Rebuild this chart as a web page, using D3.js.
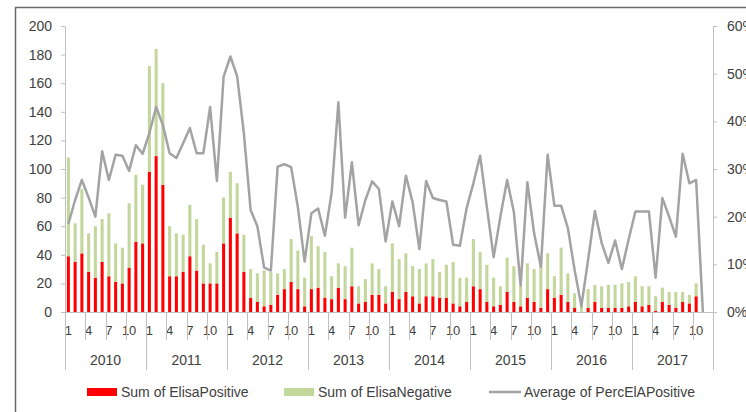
<!DOCTYPE html>
<html>
<head>
<meta charset="utf-8">
<script src="https://cdn.jsdelivr.net/npm/d3@7"></script>
<style>
  html, body { margin: 0; padding: 0; background: #fff; }
  svg { display: block; font-family: "Liberation Sans", Arial, sans-serif; }
</style>
</head>
<body>
<svg id="chart" width="746" height="412"></svg>
<script>
// Monthly ELISA test counts and average percent positive, 2010–2017
const years = ["2010", "2011", "2012", "2013", "2014", "2015", "2016", "2017"];
const monthNumbers = [1, 2, 3, 4, 5, 6, 7, 8, 9, 10, 11, 12];
const labelledMonths = [1, 4, 7, 10];
const countTicks = [0, 20, 40, 60, 80, 100, 120, 140, 160, 180, 200];
const percentTicks = [0, 0.1, 0.2, 0.3, 0.4, 0.5, 0.6];

const elisaPositive = [
  39, 35, 41, 28, 24, 35, 25, 21, 20, 31, 49, 48,
  98, 109, 89, 25, 25, 28, 39, 29, 20, 20, 20, 48,
  66, 55, 28, 10, 7, 4, 5, 12, 16, 21, 16, 4,
  16, 17, 10, 9, 17, 9, 18, 6, 7, 12, 12, 6,
  14, 9, 14, 11, 6, 11, 11, 10, 10, 6, 4, 7,
  18, 16, 7, 4, 5, 14, 7, 4, 10, 7, 3, 16,
  10, 12, 7, 3, 0, 3, 7, 3, 3, 3, 3, 4,
  7, 4, 5, 1, 7, 5, 3, 7, 6, 11, 0, null
];

const elisaNegative = [
  69, 27, 45, 27, 36, 30, 44, 27, 25, 45, 47, 41,
  74, 75, 71, 35, 30, 26, 36, 36, 27, 14, 22, 32,
  32, 35, 26, 20, 20, 25, 23, 15, 14, 30, 27, 20,
  37, 29, 32, 16, 17, 23, 27, 12, 16, 22, 18, 12,
  34, 28, 27, 21, 24, 23, 26, 18, 23, 29, 20, 17,
  33, 26, 26, 20, 13, 24, 25, 14, 24, 23, 34, 25,
  15, 33, 20, 10, 5, 13, 12, 15, 16, 16, 17, 17,
  18, 14, 13, 10, 10, 9, 11, 7, 6, 9, 0, null
];

const percElAPositive = [
  0.185, 0.235, 0.277, 0.240, 0.200, 0.337, 0.277, 0.330, 0.328, 0.296, 0.350, 0.332,
  0.375, 0.430, 0.392, 0.333, 0.323, 0.354, 0.386, 0.333, 0.333, 0.430, 0.275, 0.494,
  0.536, 0.495, 0.375, 0.214, 0.180, 0.093, 0.087, 0.305, 0.310, 0.304, 0.220, 0.106,
  0.207, 0.217, 0.160, 0.250, 0.440, 0.198, 0.314, 0.182, 0.235, 0.274, 0.258, 0.148,
  0.232, 0.180, 0.286, 0.230, 0.132, 0.275, 0.239, 0.235, 0.232, 0.141, 0.139, 0.218,
  0.270, 0.328, 0.220, 0.115, 0.200, 0.277, 0.210, 0.055, 0.272, 0.165, 0.095, 0.330,
  0.223, 0.223, 0.176, 0.088, 0.012, 0.110, 0.212, 0.145, 0.103, 0.150, 0.090, 0.152,
  0.211, 0.211, 0.211, 0.072, 0.239, 0.200, 0.158, 0.332, 0.270, 0.277, 0.000, null
];

// Category table: one row per month
const rows = years.flatMap((yr, yi) => monthNumbers.map((m, mi) => {
  const i = yi * monthNumbers.length + mi;
  return {
    i, year: yr, month: m,
    pos: elisaPositive[i] ?? 0,
    neg: elisaNegative[i] ?? 0,
    pct: percElAPositive[i]
  };
}));

const svg = d3.select("#chart");
const textColor = "#404040";
const axisColor = "#c0c0c0";

// Frame around the chart area
svg.append("path")
  .attr("d", "M15.5,420 V7.5 H760")
  .attr("fill", "none")
  .attr("stroke", "#6a6a6a")
  .attr("stroke-width", 1.5);

const plotLeft = 65, plotRight = 713, plotBottom = 312, plotTop = 26;

const x = d3.scaleBand()
  .domain(rows.map(d => d.i))
  .range([plotLeft, plotRight])
  .paddingInner(0.55)
  .paddingOuter(0.275);

const y = d3.scaleLinear().domain([0, 200]).range([plotBottom, plotTop]);
const yPct = d3.scaleLinear().domain([0, 0.6]).range([plotBottom, plotTop]);

// Stacked bars: positives at the bottom, negatives on top
const stack = d3.stack().keys(["pos", "neg"]);
const series = stack(rows);
const barColors = { pos: "#ff0000", neg: "#c3d69b" };

svg.append("g").selectAll("g")
  .data(series)
  .join("g")
  .attr("fill", s => barColors[s.key])
  .selectAll("rect")
  .data(s => s)
  .join("rect")
  .attr("x", d => x(d.data.i))
  .attr("width", x.bandwidth())
  .attr("y", d => y(d[1]))
  .attr("height", d => Math.max(0, y(d[0]) - y(d[1])));

// Left axis (counts)
const leftAxis = svg.append("g")
  .attr("transform", `translate(${plotLeft},0)`)
  .call(d3.axisLeft(y).tickValues(countTicks).tickSize(4).tickSizeOuter(0).tickPadding(9));

// Right axis (percent)
const rightAxis = svg.append("g")
  .attr("transform", `translate(${plotRight},0)`)
  .call(d3.axisRight(yPct).tickValues(percentTicks).tickFormat(d3.format(".0%"))
    .tickSize(4).tickSizeOuter(0).tickPadding(10));

[leftAxis, rightAxis].forEach(g => {
  g.select(".domain").attr("stroke", axisColor).attr("stroke-width", 1);
  g.selectAll(".tick line").attr("stroke", axisColor);
  g.selectAll(".tick text")
    .attr("fill", textColor)
    .attr("font-size", 14)
    .attr("font-family", "'Liberation Sans', Arial, sans-serif");
});

// Category axis: baseline, month labels, separators and year labels
const step = x.step();
const boundary = i => x.range()[0] + i * step;

svg.append("line")
  .attr("x1", plotLeft).attr("x2", plotRight)
  .attr("y1", plotBottom + 0.5).attr("y2", plotBottom + 0.5)
  .attr("stroke", axisColor);

const monthAxis = svg.append("g")
  .attr("transform", `translate(0,${plotBottom})`)
  .call(d3.axisBottom(x)
    .tickValues(rows.filter(d => labelledMonths.includes(d.month)).map(d => d.i))
    .tickFormat(i => rows[i].month)
    .tickSize(0)
    .tickPadding(14));
monthAxis.select(".domain").remove();
monthAxis.selectAll(".tick text")
  .attr("fill", textColor)
  .attr("font-size", 13)
  .attr("font-family", "'Liberation Sans', Arial, sans-serif");

const sepGroup = svg.append("g").attr("stroke", axisColor).attr("stroke-width", 1);
rows.forEach(d => {
  if (d.month !== 1 && (d.month - 1) % 3 === 0) {
    const bx = Math.round(boundary(d.i)) + 0.5;
    sepGroup.append("line")
      .attr("x1", bx).attr("x2", bx)
      .attr("y1", plotBottom).attr("y2", plotBottom + 28);
  }
});
d3.range(years.length + 1).forEach(k => {
  const bx = Math.round(boundary(k * monthNumbers.length)) + 0.5;
  sepGroup.append("line")
    .attr("x1", bx).attr("x2", bx)
    .attr("y1", plotBottom).attr("y2", plotBottom + 58);
});

svg.append("g").selectAll("text")
  .data(years)
  .join("text")
  .attr("x", (yr, k) => (boundary(k * 12) + boundary((k + 1) * 12)) / 2)
  .attr("y", 360)
  .attr("dominant-baseline", "central")
  .attr("text-anchor", "middle")
  .attr("fill", textColor)
  .attr("font-size", 14)
  .text(yr => yr);

// Average percent positive line
const line = d3.line()
  .defined(d => d.pct != null)
  .x(d => x(d.i) + x.bandwidth() / 2)
  .y(d => yPct(d.pct));

svg.append("path")
  .datum(rows)
  .attr("fill", "none")
  .attr("stroke", "#a3a3a3")
  .attr("stroke-width", 2.5)
  .attr("stroke-linejoin", "round")
  .attr("d", line);

// Legend
const legendY = 392;
const legend = svg.append("g").attr("font-size", 14).attr("fill", textColor);

legend.append("rect").attr("x", 87).attr("y", legendY - 4).attr("width", 30).attr("height", 8).attr("fill", barColors.pos);
legend.append("text").attr("x", 121).attr("y", legendY).attr("dominant-baseline", "central").text("Sum of ElisaPositive");

legend.append("rect").attr("x", 284).attr("y", legendY - 4).attr("width", 30).attr("height", 8).attr("fill", barColors.neg);
legend.append("text").attr("x", 318).attr("y", legendY).attr("dominant-baseline", "central").text("Sum of ElisaNegative");

legend.append("line").attr("x1", 489).attr("x2", 521).attr("y1", legendY).attr("y2", legendY)
  .attr("stroke", "#a3a3a3").attr("stroke-width", 2.5);
legend.append("text").attr("x", 524).attr("y", legendY).attr("dominant-baseline", "central").text("Average of PercElAPositive");
</script>
</body>
</html>
